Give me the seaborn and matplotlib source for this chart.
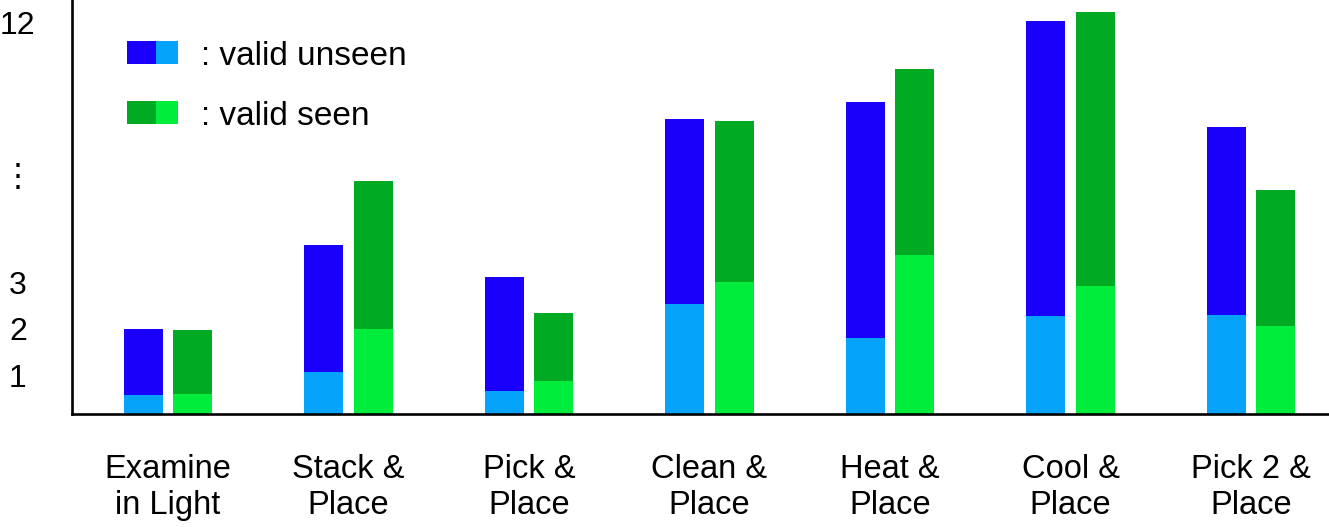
import numpy as np
import pandas as pd
import matplotlib
matplotlib.use("Agg")
import matplotlib.pyplot as plt
import seaborn as sns
from matplotlib.patches import Rectangle

# ---------------- data ----------------
tasks = ["Examine\nin Light", "Stack &\nPlace", "Pick &\nPlace", "Clean &\nPlace",
         "Heat &\nPlace", "Cool &\nPlace", "Pick 2 &\nPlace"]
series = ["valid unseen", "valid seen"]
unseen_total = [1.98, 4.30, 3.19, 8.65, 9.24, 12.03, 8.37]
unseen_part = [0.49, 1.07, 0.60, 2.53, 1.79, 2.26, 2.29]
seen_total = [1.96, 6.51, 2.33, 8.58, 10.38, 12.34, 6.20]
seen_part = [0.52, 1.98, 0.86, 3.02, 3.95, 2.92, 2.04]

ytick_values = [1, 2, 3, 6.73, 12]
ytick_labels = ["1", "2", "3", "\u22ee", "12"]
# the chart's own (broken) y axis: value -> relative axis position
scale_values = [0, 1, 2, 3, 12]
scale_positions = [0, 38.5, 86, 131.5, 392]

# ---------------- styles ----------------
dark = {"valid unseen": "#1a00fa", "valid seen": "#01aa23"}
light = {"valid unseen": "#05a3fa", "valid seen": "#00ee3b"}

sns.set_theme(style="white")
plt.rcParams["font.family"] = ["Liberation Sans", "DejaVu Sans"]
plt.rcParams["text.color"] = "black"
plt.rcParams["xtick.color"] = "black"
plt.rcParams["ytick.color"] = "black"

df = pd.DataFrame({
    "task": tasks * 2,
    "split": [series[0]] * len(tasks) + [series[1]] * len(tasks),
    "total": unseen_total + seen_total,
    "part": unseen_part + seen_part,
})

W, H = 1329, 530
fig = plt.figure(figsize=(W / 100, H / 100), dpi=100)
ax = fig.add_axes([72 / W, 1 - 414 / H, 1 - 72 / W, 414 / H])

sns.barplot(data=df, x="task", y="total", hue="split", hue_order=series,
            palette=dark, saturation=1, width=0.548, gap=0.212,
            errorbar=None, legend=False, linewidth=0, ax=ax)
sns.barplot(data=df, x="task", y="part", hue="split", hue_order=series,
            palette=light, saturation=1, width=0.548, gap=0.212,
            errorbar=None, legend=False, linewidth=0, ax=ax)

# piecewise-linear broken scale
sv = np.array(scale_values, float)
sp = np.array(scale_positions, float)
slope = (sp[-1] - sp[-2]) / (sv[-1] - sv[-2])
sv_ext = np.concatenate([[-20], sv, [40]])
sp_ext = np.concatenate([[-20 * sp[1] / sv[1]], sp, [sp[-1] + (40 - sv[-1]) * slope]])
fwd = lambda v: np.interp(v, sv_ext, sp_ext)
inv = lambda p: np.interp(p, sp_ext, sv_ext)
ax.set_yscale("function", functions=(fwd, inv))
ax.set_ylim(0, inv(414.0))
ax.set_xlim(-0.532, 6.432)

ax.set_yticks(ytick_values)
ax.set_yticklabels(ytick_labels)
ax.tick_params(axis="y", length=0, pad=39, labelsize=23, labelcolor="black")
for t in ax.get_yticklabels():
    t.set_horizontalalignment("center")
ax.tick_params(axis="x", length=0, pad=29, labelsize=23.5, labelcolor="black")
for t in ax.get_xticklabels():
    t.set_linespacing(1.2)

ax.set_xlabel("")
ax.set_ylabel("")
for s in ["top", "right"]:
    ax.spines[s].set_visible(False)
for s in ["left", "bottom"]:
    ax.spines[s].set_color("black")
    ax.spines[s].set_linewidth(1.9)
ax.grid(False)

# legend (two-tone swatches)
def swatch(x0, x1, y0, y1, color):
    fig.add_artist(Rectangle((x0 / W, 1 - y1 / H), (x1 - x0) / W, (y1 - y0) / H,
                             transform=fig.transFigure, color=color, lw=0))

for name, ytop, base in [("valid unseen", 41, 65), ("valid seen", 101, 125)]:
    swatch(127, 156, ytop, ytop + 23, dark[name])
    swatch(156, 178, ytop, ytop + 23, light[name])
    fig.text(201 / W, 1 - base / H, ": " + name, fontsize=24,
             ha="left", va="baseline", color="black")

fig.savefig("out.png", dpi=100, facecolor="white")
